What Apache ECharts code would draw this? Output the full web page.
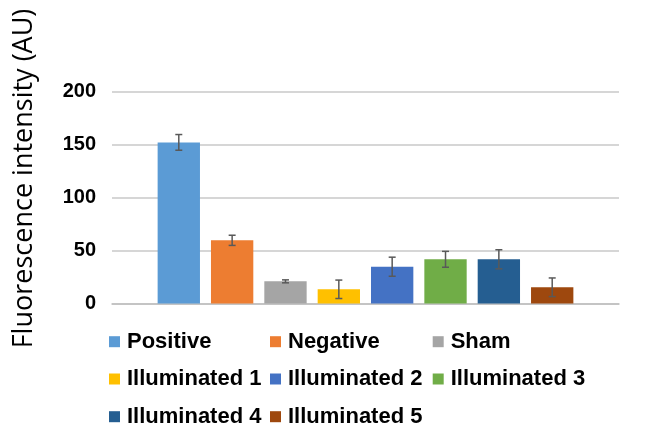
<!DOCTYPE html>
<html>
<head>
<meta charset="utf-8">
<script src="https://cdn.jsdelivr.net/npm/echarts@6/dist/echarts.min.js"></script>
<style>html,body{margin:0;padding:0;background:#fff;}#main{width:652px;height:427px;}</style>
</head>
<body>
<div id="main"></div>
<script>
var seriesNames = ['Positive', 'Negative', 'Sham', 'Illuminated 1', 'Illuminated 2', 'Illuminated 3', 'Illuminated 4', 'Illuminated 5'];
var values = [152, 59.6, 20.9, 13.4, 34.7, 41.7, 41.7, 15.3];
var errors = [7.4, 4.8, 1.4, 8.7, 9, 7.5, 9, 8.8];
var colors = ['#5B9BD5', '#ED7D31', '#A5A5A5', '#FFC000', '#4472C4', '#70AD47', '#255E91', '#9E480E'];
var yTicks = [0, 50, 100, 150, 200];

var BAR_GAP = 0.26, CAT_GAP = 0.18;
var chart = echarts.init(document.getElementById('main'));
var series = [];
var n = seriesNames.length;
seriesNames.forEach(function (name, i) {
  series.push({
    name: name, type: 'bar', data: [values[i]],
    barGap: (BAR_GAP * 100) + '%', barCategoryGap: (CAT_GAP * 100) + '%',
    itemStyle: { color: colors[i] }
  });
});
series.push({
  type: 'custom',
  name: 'err',
  silent: true,
  data: values.map(function (v, i) { return [0, v - errors[i], v + errors[i], i]; }),
  renderItem: function (params, api) {
    var idx = api.value(3);
    var band = api.size([1, 0])[0];
    var span = band * (1 - CAT_GAP);
    var w = span / (n + (n - 1) * BAR_GAP);
    var step = w * (1 + BAR_GAP);
    var c0 = api.coord([0, api.value(1)]);
    var c1 = api.coord([0, api.value(2)]);
    var x = c0[0] + (idx - (n - 1) / 2) * step;
    var cap = 3.5;
    var st = { stroke: '#595959', lineWidth: 1.5 };
    return {
      type: 'group', children: [
        { type: 'line', shape: { x1: x, y1: c0[1], x2: x, y2: c1[1] }, style: st },
        { type: 'line', shape: { x1: x - cap, y1: c0[1], x2: x + cap, y2: c0[1] }, style: st },
        { type: 'line', shape: { x1: x - cap, y1: c1[1], x2: x + cap, y2: c1[1] }, style: st }
      ]
    };
  },
  z: 10
});

var legendPos = [
  [109, 341.7], [270, 341.7], [432.7, 341.7],
  [109, 379], [270, 379], [432.7, 379],
  [109, 416.7], [270, 416.7]
];
var legends = seriesNames.map(function (name, i) {
  return {
    data: [name], left: legendPos[i][0], top: legendPos[i][1] - 11, padding: 0,
    icon: 'rect', itemWidth: 11, itemHeight: 11, itemGap: 0, selectedMode: false,
    textStyle: { fontFamily: 'Liberation Sans', fontWeight: 'bold', fontSize: 22, color: '#000', lineHeight: 22, padding: [0, 0, 0, 2] }
  };
});

chart.setOption({
  animation: false,
  grid: { left: 112, right: 33, top: 91.5, bottom: 123.5 },
  xAxis: {
    type: 'category', data: [''],
    axisLine: { show: true, lineStyle: { color: '#bfbfbf', width: 1.5 } },
    axisTick: { show: false }, axisLabel: { show: false }
  },
  yAxis: {
    type: 'value', min: yTicks[0], max: yTicks[yTicks.length - 1], interval: 50,
    axisLine: { show: false }, axisTick: { show: false },
    splitLine: { lineStyle: { color: '#c8c8c8', width: 1.5 } },
    axisLabel: { margin: 16, fontFamily: 'Liberation Sans', fontWeight: 'bold', fontSize: 20, color: '#000' }
  },
  legend: legends,
  graphic: [{
    type: 'text', x: 24, y: 178.5, rotation: Math.PI / 2,
    style: { text: 'Fluorescence intensity (AU)', fontFamily: 'Open Sans', fontSize: 27, fill: '#000', align: 'center', verticalAlign: 'middle' }
  }],
  series: series
});
</script>
</body>
</html>
